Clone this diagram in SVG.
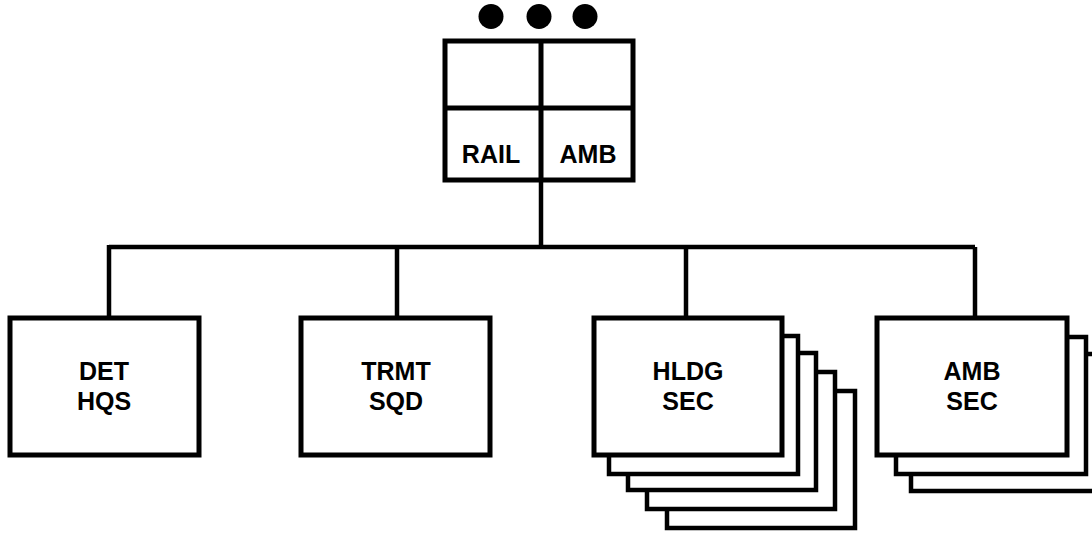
<svg xmlns="http://www.w3.org/2000/svg" width="1092" height="533" viewBox="0 0 1092 533">
  <style>
    .box { fill: #fff; stroke: #000; stroke-width: 5; }
    .shadow { fill: #fff; stroke: #000; stroke-width: 4.5; }
    .line { fill: none; stroke: #000; stroke-width: 4.5; }
    .lbl { font-family: "Liberation Sans", Arial, Helvetica, sans-serif; font-weight: bold; font-size: 25px; fill: #000; text-anchor: middle; }
  </style>
  <rect width="1092" height="533" fill="#fff"/>

  <g id="dots">
    <circle cx="491" cy="16.5" r="12.5" fill="#000"/>
    <circle cx="539" cy="16.5" r="12.5" fill="#000"/>
    <circle cx="585" cy="16.5" r="12.5" fill="#000"/>
  </g>

  <g id="connectors">
    <path class="line" d="M541 180 V247"/>
    <path class="line" d="M109 247 H975"/>
    <path class="line" d="M109 245 V318"/>
    <path class="line" d="M397 247 V318"/>
    <path class="line" d="M686 247 V318"/>
    <path class="line" d="M975 247 V318"/>
  </g>

  <g id="hq">
    <rect class="box" x="445" y="41" width="188" height="139"/>
    <path class="box" d="M541 41 V180 M445 108 H633"/>
    <text class="lbl" x="491" y="163">RAIL</text>
    <text class="lbl" x="588" y="163">AMB</text>
  </g>

  <g id="det-hqs">
    <rect class="box" x="10" y="318" width="189" height="137"/>
    <text class="lbl" x="104" y="380">DET</text>
    <text class="lbl" x="104" y="410">HQS</text>
  </g>

  <g id="trmt-sqd">
    <rect class="box" x="301" y="318" width="189" height="137"/>
    <text class="lbl" x="396" y="380">TRMT</text>
    <text class="lbl" x="396" y="410">SQD</text>
  </g>

  <g id="hldg-sec">
    <rect class="shadow" x="667" y="391" width="188" height="137"/>
    <rect class="shadow" x="647" y="372" width="188" height="137"/>
    <rect class="shadow" x="628" y="353" width="188" height="137"/>
    <rect class="shadow" x="609" y="336" width="189" height="138"/>
    <rect class="box" x="594" y="318" width="188" height="137"/>
    <text class="lbl" x="688" y="380">HLDG</text>
    <text class="lbl" x="688" y="410">SEC</text>
  </g>

  <g id="amb-sec">
    <rect class="shadow" x="911" y="354" width="190" height="137"/>
    <rect class="shadow" x="896" y="337" width="190" height="137"/>
    <rect class="box" x="877" y="318" width="190" height="137"/>
    <text class="lbl" x="972" y="380">AMB</text>
    <text class="lbl" x="972" y="410">SEC</text>
  </g>
</svg>
